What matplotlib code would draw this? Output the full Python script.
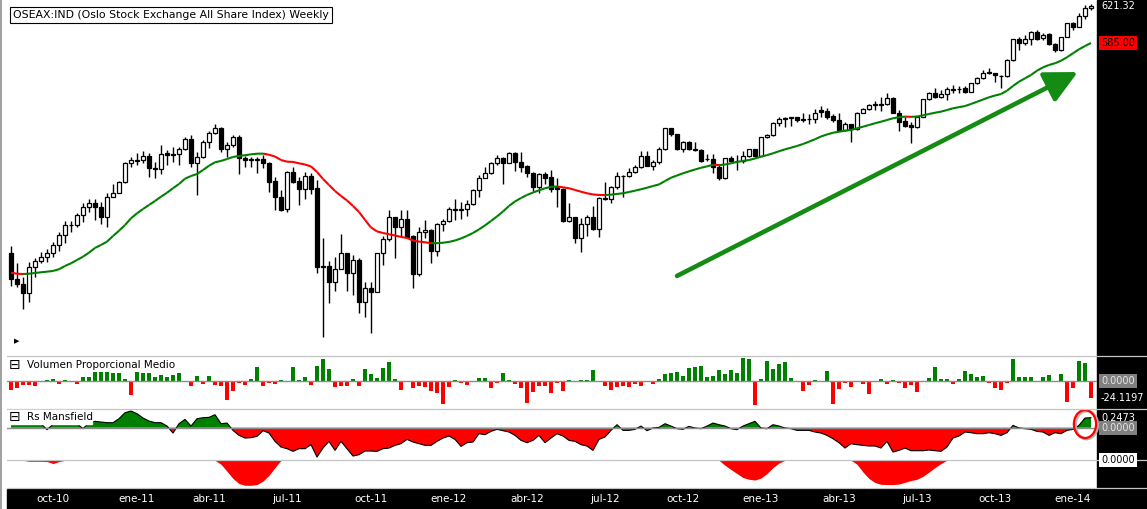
import numpy as np
import pandas as pd
import matplotlib
matplotlib.use("Agg")
import matplotlib.pyplot as plt
from matplotlib.collections import LineCollection
from matplotlib.patches import Rectangle, Ellipse
from matplotlib.lines import Line2D
from matplotlib.transforms import blended_transform_factory as blend

plt.rcParams['font.family'] = ['DejaVu Sans']

# OSEAX weekly candles (weeks ending on friday)
opens = [
    378.6, 353.0, 348.4, 339.9, 364.8, 371.3, 375.2, 379.2, 386.4, 396.2,
    406.0, 406.0, 415.9, 423.7, 427.6, 423.7, 413.9, 433.6, 437.5, 448.5,
    466.9, 469.5, 470.1, 474.1, 462.3, 461.0, 476.7, 475.3, 476.0, 480.6,
    490.5, 467.5, 472.8, 488.1, 496.3, 501.3, 480.6, 484.6, 492.4, 471.8,
    470.1, 470.1, 471.1, 466.9, 449.5, 433.6, 421.8, 458.4, 449.5, 441.4,
    454.4, 442.4, 365.4, 366.1, 350.7, 362.9, 378.6, 358.9, 372.0, 331.1,
    344.2, 340.9, 378.6, 392.3, 413.9, 404.1, 411.9, 395.5, 357.9, 399.2,
    401.4, 381.1, 407.3, 410.6, 422.3, 421.4, 421.8, 426.6, 440.7, 452.2,
    457.1, 466.9, 471.8, 466.9, 476.7, 468.5, 464.3, 457.1, 444.0, 456.1,
    453.2, 444.0, 441.4, 410.6, 413.9, 393.3, 407.0, 413.9, 402.1, 432.2,
    431.6, 444.0, 454.4, 454.7, 458.7, 463.6, 474.4, 464.6, 468.5, 480.6,
    501.3, 495.4, 480.6, 488.1, 480.6, 480.0, 471.1, 471.5, 463.3, 452.5,
    471.8, 469.2, 469.5, 474.4, 480.6, 474.4, 492.4, 494.4, 506.2, 510.7,
    511.7, 512.1, 509.7, 510.1, 510.1, 519.2, 518.5, 513.3, 509.4, 499.6,
    505.5, 500.3, 516.6, 519.9, 524.4, 524.4, 524.8, 530.7, 516.6, 508.4,
    504.5, 502.2, 512.6, 529.7, 535.6, 532.3, 534.9, 539.2, 539.5, 540.5,
    537.2, 545.4, 550.3, 556.8, 555.2, 552.3, 552.6, 568.3, 588.6, 584.7,
    588.6, 595.5, 589.6, 593.5, 583.7, 578.1, 590.6, 604.3, 601.0, 611.5,
    619.0]
highs = [
    385.7, 369.3, 355.6, 370.3, 374.2, 380.1, 382.5, 389.9, 399.8, 410.3,
    410.3, 417.8, 428.2, 431.6, 431.6, 429.2, 437.5, 446.6, 449.8, 468.5,
    473.4, 476.7, 479.3, 476.7, 468.5, 484.9, 480.0, 483.2, 483.2, 492.4,
    494.7, 478.3, 489.8, 498.6, 505.2, 502.8, 488.1, 494.7, 494.7, 474.1,
    473.4, 472.8, 475.1, 468.5, 453.8, 440.7, 459.3, 463.0, 453.8, 458.7,
    457.1, 450.5, 393.3, 371.0, 375.2, 397.2, 378.9, 376.9, 373.7, 350.7,
    350.7, 378.9, 395.5, 421.1, 414.5, 421.1, 421.1, 396.5, 404.7, 411.3,
    402.4, 408.3, 411.9, 424.3, 431.6, 429.2, 430.9, 441.2, 455.4, 463.6,
    468.5, 475.1, 472.6, 478.3, 478.3, 478.3, 465.2, 457.9, 457.1, 458.7,
    460.3, 452.2, 442.7, 427.6, 414.2, 413.0, 416.2, 424.5, 433.6, 448.8,
    444.6, 458.1, 455.4, 462.0, 465.2, 479.0, 479.3, 470.1, 482.6, 501.6,
    501.6, 495.7, 488.8, 488.8, 488.1, 480.5, 476.0, 475.7, 465.2, 472.1,
    474.1, 475.1, 479.3, 480.9, 480.9, 492.7, 495.4, 507.5, 512.6, 512.6,
    512.6, 512.6, 516.0, 515.3, 519.9, 523.2, 521.2, 515.3, 516.0, 507.5,
    505.5, 517.3, 521.2, 525.1, 528.3, 531.7, 535.6, 532.0, 519.2, 512.3,
    507.7, 513.3, 530.0, 536.9, 540.5, 538.9, 541.5, 543.8, 542.8, 542.8,
    546.2, 551.6, 558.5, 560.1, 555.5, 553.6, 568.8, 588.9, 591.2, 592.8,
    597.1, 597.8, 594.5, 594.5, 584.7, 591.2, 604.6, 605.9, 614.1, 622.3,
    623.3]
lows = [
    346.5, 345.8, 324.2, 331.1, 355.6, 368.7, 370.3, 375.2, 380.8, 388.4,
    399.8, 404.7, 409.6, 419.4, 411.3, 407.3, 404.1, 433.6, 437.5, 447.9,
    463.6, 465.2, 466.9, 453.8, 452.2, 456.4, 465.2, 468.5, 465.2, 480.0,
    463.6, 435.8, 471.8, 481.6, 495.7, 478.3, 473.4, 483.2, 456.4, 463.0,
    463.0, 457.7, 462.0, 439.0, 421.1, 420.1, 419.4, 447.9, 426.0, 431.6,
    436.5, 359.5, 296.7, 330.1, 341.6, 362.9, 341.6, 337.6, 319.7, 315.7,
    300.0, 340.6, 367.1, 390.9, 373.7, 394.9, 394.3, 344.8, 356.6, 393.3,
    368.7, 375.9, 400.8, 409.6, 411.3, 411.9, 415.5, 426.0, 433.6, 452.2,
    456.4, 465.2, 446.6, 466.9, 459.6, 458.7, 453.8, 440.0, 437.5, 446.6,
    438.7, 423.7, 409.3, 409.3, 388.4, 380.1, 395.5, 401.4, 394.3, 430.9,
    427.6, 441.4, 433.6, 453.8, 457.4, 462.3, 464.3, 460.3, 466.2, 480.0,
    493.7, 480.0, 478.0, 480.0, 479.3, 468.2, 469.2, 457.7, 450.2, 451.8,
    468.2, 460.3, 467.2, 472.9, 472.9, 474.1, 491.7, 493.7, 503.5, 502.5,
    503.5, 507.5, 507.5, 505.5, 506.8, 512.6, 510.1, 507.5, 498.9, 498.6,
    488.1, 499.6, 516.3, 519.2, 519.2, 518.5, 524.1, 516.3, 498.9, 502.5,
    487.1, 501.6, 512.3, 529.0, 530.7, 530.7, 529.0, 535.6, 535.6, 535.6,
    536.5, 544.8, 549.7, 554.5, 547.0, 540.5, 551.6, 567.3, 578.1, 583.0,
    583.0, 587.9, 587.9, 583.0, 576.5, 577.4, 590.4, 597.8, 600.7, 608.3,
    617.4]
closes = [
    353.0, 348.1, 339.9, 364.8, 371.3, 375.2, 379.2, 386.4, 396.2, 406.0,
    406.6, 415.9, 423.7, 427.6, 423.7, 413.9, 433.6, 437.5, 448.5, 467.5,
    470.1, 470.1, 474.1, 462.0, 461.0, 476.0, 475.1, 476.0, 480.6, 490.5,
    467.5, 472.8, 488.1, 496.3, 501.3, 480.6, 484.6, 492.4, 471.8, 470.1,
    471.1, 471.1, 466.9, 448.8, 433.6, 421.1, 458.4, 448.8, 441.4, 454.4,
    442.0, 365.4, 366.4, 350.7, 362.9, 378.6, 358.9, 372.0, 331.1, 344.2,
    340.9, 378.6, 392.3, 413.9, 404.1, 411.9, 394.9, 357.9, 399.2, 401.4,
    381.1, 407.3, 410.6, 421.8, 421.1, 422.0, 426.6, 440.7, 452.2, 457.1,
    467.5, 471.8, 466.9, 476.7, 467.9, 463.6, 457.1, 444.0, 456.1, 452.8,
    441.4, 441.4, 410.6, 413.9, 393.3, 407.0, 413.9, 402.1, 432.6, 432.6,
    444.0, 454.7, 454.7, 458.7, 463.6, 474.4, 464.6, 468.5, 480.6, 501.3,
    495.4, 480.6, 488.1, 480.6, 480.0, 469.5, 471.5, 463.3, 452.5, 471.8,
    469.5, 469.5, 474.4, 480.6, 474.4, 492.4, 494.4, 506.2, 510.1, 511.1,
    512.1, 509.4, 510.1, 510.4, 516.6, 517.6, 512.6, 509.4, 499.6, 505.5,
    500.3, 516.6, 519.9, 524.1, 524.8, 524.8, 530.7, 516.6, 507.7, 503.5,
    502.2, 512.6, 529.7, 535.6, 532.3, 534.6, 539.5, 539.5, 539.8, 537.2,
    545.4, 550.3, 555.8, 555.2, 553.6, 552.6, 568.3, 588.6, 584.7, 588.6,
    595.5, 588.6, 592.8, 583.7, 578.1, 590.6, 604.3, 601.0, 611.5, 619.0,
    621.32]

# 30 week moving average
ma30 = [
    359.5, 358.5, 358.2, 358.5, 359.2, 359.9, 360.5, 361.2, 362.9, 366.1,
    368.7, 372.0, 375.2, 379.2, 383.8, 386.7, 390.0, 395.5, 400.7, 406.3,
    412.9, 417.8, 422.0, 426.0, 429.9, 434.1, 438.0, 442.4, 446.6, 451.8,
    454.4, 456.4, 460.3, 464.5, 467.9, 469.2, 471.1, 473.1, 474.1, 474.8,
    475.7, 476.3, 476.4, 475.3, 473.5, 470.1, 468.5, 468.2, 466.9, 465.7,
    463.8, 458.4, 451.5, 445.6, 439.7, 434.8, 430.4, 425.0, 419.1, 411.3,
    403.9, 400.0, 398.5, 397.2, 396.0, 394.6, 393.6, 391.1, 390.0, 389.4,
    388.4, 388.5, 388.9, 389.7, 391.1, 393.1, 395.6, 398.5, 402.0, 405.9,
    410.3, 414.7, 419.6, 425.0, 429.4, 432.8, 435.8, 438.2, 440.4, 442.4,
    443.8, 444.1, 443.3, 442.4, 440.7, 439.0, 437.5, 436.3, 435.8, 435.7,
    436.1, 436.8, 437.5, 438.7, 440.0, 441.4, 442.9, 444.6, 446.1, 449.5,
    452.7, 454.9, 457.1, 459.0, 460.8, 462.5, 463.9, 465.4, 465.1, 465.7,
    466.9, 468.2, 469.2, 470.1, 471.6, 473.4, 474.9, 476.7, 478.7, 480.6,
    482.2, 483.9, 485.8, 488.1, 490.5, 493.2, 495.2, 496.9, 497.9, 498.9,
    499.6, 501.3, 502.8, 504.5, 506.2, 507.7, 509.4, 511.1, 512.1, 512.7,
    512.5, 512.8, 514.0, 515.3, 516.5, 517.6, 519.2, 520.9, 522.0, 523.1,
    525.1, 527.3, 529.5, 531.7, 533.4, 534.9, 538.2, 542.8, 547.0, 550.3,
    553.6, 557.8, 561.1, 563.4, 565.1, 567.6, 571.0, 574.9, 578.8, 582.0,
    585.0]

# Volumen Proporcional Medio
vol_prop = [
    -12.3, -9.3, -5.9, -5.9, -6.9, 0.0, 2.0, 3.0, -3.4, 2.0,
    0.0, -3.4, 6.4, 6.4, 13.8, 13.8, 13.8, 12.8, 12.8, 3.0,
    -20.7, 13.8, 12.3, 12.3, 6.4, 8.9, 6.4, 8.9, 12.3, 0.0,
    -6.4, 7.9, -3.4, 7.9, -4.9, -6.4, -27.1, -14.8, -2.5, -4.9,
    3.0, 21.2, -7.4, -2.5, -3.4, 2.0, 0.0, 21.2, 2.0, 6.4,
    -4.9, 22.6, 33.5, 18.7, -7.9, -6.9, -6.9, 3.0, -6.4, 18.7,
    10.8, 5.4, 19.7, 28.5, 3.0, -12.3, 0.0, -9.3, -6.9, -7.9,
    -13.8, -16.7, -33.0, -7.9, 2.0, -2.0, -4.9, 0.0, 4.9, 4.9,
    -9.3, -2.0, 12.3, 2.0, -3.4, -9.3, -31.5, -15.3, -6.4, -6.4,
    -16.7, -2.0, -13.8, 2.0, 0.0, 2.0, 2.0, 16.7, 0.0, -6.4,
    -12.3, -7.9, -6.4, -7.9, -3.4, -6.4, 0.0, -3.4, 3.4, 10.8,
    12.3, 13.8, 7.9, 19.7, 20.7, 22.6, 6.4, 7.9, 16.7, 10.8,
    16.7, 12.3, 34.4, 33.5, -34.4, 3.0, 29.5, 18.7, 25.6, 28.5,
    4.9, 0.0, -14.8, -4.9, 2.0, 0.0, 15.3, -33.0, -10.8, -2.0,
    -7.9, 0.0, -3.4, -18.2, 0.0, 3.4, -3.4, 2.0, -2.0, -9.3,
    -4.9, -15.3, 0.0, 4.9, 21.6, 3.4, 3.4, -3.4, 3.4, 14.8,
    10.8, 6.9, 7.9, -2.0, -9.3, -12.3, -2.0, 33.5, 6.9, 6.9,
    6.9, 0.0, 6.9, 9.3, 0.0, 10.8, -30.0, -9.3, 30.5, 27.6,
    -24.1197]

# Rs Mansfield
rs_mansfield = [
    0.231, 0.206, 0.181, 0.165, 0.148, 0.099, -0.049, 0.082, 0.124, 0.132,
    0.132, 0.099, -0.025, 0.124, 0.157, 0.140, 0.124, 0.124, 0.223, 0.371,
    0.412, 0.346, 0.239, 0.165, 0.124, 0.124, 0.041, -0.132, 0.099, 0.206,
    0.041, 0.223, 0.247, 0.256, 0.321, 0.099, 0.115, -0.066, -0.190, -0.256,
    -0.247, -0.214, -0.074, -0.132, -0.338, -0.478, -0.519, -0.585, -0.519, -0.519,
    -0.420, -0.725, -0.503, -0.338, -0.561, -0.338, -0.519, -0.701, -0.668, -0.577,
    -0.577, -0.585, -0.519, -0.503, -0.437, -0.396, -0.289, -0.354, -0.396, -0.437,
    -0.437, -0.338, -0.256, -0.206, -0.289, -0.462, -0.371, -0.354, -0.148, -0.173,
    -0.091, -0.041, -0.074, -0.107, -0.190, -0.313, -0.371, -0.313, -0.190, -0.371,
    -0.256, -0.148, -0.206, -0.313, -0.338, -0.420, -0.453, -0.561, -0.289, -0.231,
    -0.066, 0.074, -0.066, -0.066, -0.041, 0.041, -0.074, -0.008, 0.008, 0.099,
    0.041, -0.025, -0.041, 0.033, -0.008, -0.025, 0.041, 0.115, 0.074, 0.041,
    -0.025, -0.049, 0.041, 0.099, 0.157, -0.008, -0.025, 0.074, 0.041, -0.008,
    -0.025, -0.066, -0.066, -0.066, -0.107, -0.132, -0.190, -0.272, -0.371, -0.503,
    -0.396, -0.420, -0.437, -0.453, -0.453, -0.503, -0.338, -0.602, -0.561, -0.503,
    -0.569, -0.569, -0.569, -0.552, -0.569, -0.585, -0.478, -0.256, -0.206, -0.107,
    -0.124, -0.148, -0.148, -0.124, -0.148, -0.190, -0.124, 0.058, -0.008, -0.025,
    -0.041, -0.091, -0.107, -0.190, -0.124, -0.148, -0.066, -0.041, 0.058, 0.239,
    0.2473]

# lower unnamed sub panel (only negative stretches)
rs_lower = [
    0, 0, 0, -0.04, -0.04, -0.04, -0.05, -0.13, -0.05, 0,
    0, 0, 0, 0, 0, 0, 0, 0, 0, 0,
    0, 0, 0, 0, 0, 0, 0, 0, 0, 0,
    0, 0, 0, 0, 0, -0.16, -0.44, -0.73, -0.93, -1.0,
    -1.0, -0.97, -0.83, -0.6, -0.29, 0, 0, 0, 0, 0,
    0, 0, 0, 0, 0, 0, 0, 0, 0, 0,
    0, 0, 0, 0, 0, 0, 0, 0, 0, 0,
    0, 0, 0, 0, 0, 0, 0, 0, 0, 0,
    0, 0, 0, 0, 0, 0, 0, 0, 0, 0,
    0, 0, 0, 0, 0, 0, 0, 0, 0, 0,
    0, 0, 0, 0, 0, 0, 0, 0, 0, 0,
    0, 0, 0, 0, 0, 0, 0, 0, 0, -0.2,
    -0.37, -0.53, -0.69, -0.76, -0.79, -0.71, -0.53, -0.29, -0.11, 0,
    0, 0, 0, 0, 0, 0, 0, 0, 0, 0,
    0, -0.16, -0.47, -0.73, -0.89, -0.96, -0.97, -0.97, -0.95, -0.88,
    -0.81, -0.76, -0.64, -0.47, -0.29, -0.13, 0, 0, 0, 0,
    0, 0, 0, 0, 0, 0, 0, 0, 0, 0,
    0, 0, 0, 0, 0, 0, 0, 0, 0, 0,
    0]

GREEN = '#008000'
RED = '#ff0000'

W, H = 1147, 509
fig = plt.figure(figsize=(W / 100, H / 100), dpi=100)


def fx(px):
    return px / W


def fy(py):
    return 1 - py / H


def panel(top, bottom):
    a = fig.add_axes([fx(7), fy(bottom), fx(1097 - 7), (bottom - top) / H])
    a.set_xlim(-0.67, 181.0)
    a.set_axis_off()
    return a


x = np.arange(len(closes))
o = np.array(opens)
c = np.array(closes)
hi = np.array(highs)
lo = np.array(lows)
up = c >= o

# --- price panel
ax = panel(0, 355.5)
ax.set_ylim(278.2, 627.2)
ax.vlines(x, lo, hi, color='black', lw=1.0, zorder=2)
ax.bar(x, np.maximum(np.abs(c - o), 0.35), bottom=np.minimum(o, c), width=0.58,
       color=['white' if u else 'black' for u in up], edgecolor='black', linewidth=0.9, zorder=3)

ma = np.array(ma30)
pts = np.column_stack([x, ma])
segs = np.stack([pts[:-1], pts[1:]], axis=1)
seg_cols = [GREEN if d >= 0 else RED for d in np.diff(ma)]
ax.add_collection(LineCollection(segs, colors=seg_cols, linewidths=1.5, zorder=4))

ax.annotate('', xy=(177.8, 556.5), xytext=(111.0, 356.3),
            arrowprops=dict(arrowstyle='-|>,head_length=0.9,head_width=0.45', mutation_scale=22,
                            color='#148c14', lw=3.3, shrinkA=0, shrinkB=0), zorder=5)

# --- volume panel
axv = panel(356.3, 408.7)
axv.set_ylim(-40.3, 36.8)
vp = np.array(vol_prop)
axv.bar(x, vp, width=0.66, color=[GREEN if v >= 0 else RED for v in vp], linewidth=0)
axv.axhline(0, color='#8c8c8c', lw=1.0, zorder=3)

# --- rs mansfield panel
axr = panel(408.7, 460.3)
axr.set_ylim(-0.806, 0.47)
rs = np.array(rs_mansfield)
axr.fill_between(x, rs, 0, where=rs >= 0, interpolate=True, color=GREEN, lw=0)
axr.fill_between(x, rs, 0, where=rs <= 0, interpolate=True, color=RED, lw=0)
axr.plot(x, rs, color='black', lw=0.8, zorder=2)
axr.axhline(0, color='#8c8c8c', lw=1.0, zorder=3)
axr.add_patch(Ellipse((179.25, 0.07), 3.7, 0.69, fill=False, ec='#b4b4b4', lw=2.2, clip_on=False, zorder=5))
axr.add_patch(Ellipse((179.0, 0.09), 3.7, 0.69, fill=False, ec=RED, lw=1.6, clip_on=False, zorder=6))

# --- lower sub panel
axl = panel(460.3, 488)
axl.set_ylim(-1.108, 0.0)
axl.fill_between(x, rs_lower, 0, color=RED, lw=0)

# black strips: right scale and date axis
fig.add_artist(Rectangle((fx(1097), 0), 1 - fx(1097), 1, transform=fig.transFigure,
                         color='black', zorder=-1))
fig.add_artist(Rectangle((fx(7), 0), 1 - fx(7), fy(489), transform=fig.transFigure,
                         color='black', zorder=-1))

# panel separators, left border
for py in [356.3, 408.7, 460.3, 488]:
    fig.add_artist(Line2D([fx(7), 1], [fy(py), fy(py)], color='#c4c4c4', lw=0.9, zorder=2))
fig.add_artist(Line2D([fx(1), fx(1)], [0, 1], color='#a0a0a0', lw=1.4, zorder=2))

# date labels
dates = pd.date_range('2010-08-13', periods=len(closes), freq='W-FRI')
meses = {1: 'ene', 4: 'abr', 7: 'jul', 10: 'oct'}
tr_x = blend(ax.transData, fig.transFigure)
for i in range(1, len(dates)):
    d = dates[i]
    if d.month != dates[i - 1].month and d.month in meses:
        fig.text(i, fy(499), '%s-%02d' % (meses[d.month], d.year % 100), transform=tr_x,
                 color='white', fontsize=7.5, ha='center', va='center', zorder=5)

# right side value labels
def right_label(a, val, txt, color='white', box=None):
    fig.text(fx(1101), val, txt, transform=blend(fig.transFigure, a.transData), color=color,
             fontsize=7, va='center', ha='left', zorder=6, bbox=box)

right_label(ax, closes[-1], '%.2f' % closes[-1])
right_label(ax, ma30[-1], '%.2f' % ma30[-1], 'black',
            dict(boxstyle='square,pad=0.2', fc=RED, ec='none'))
right_label(axv, 0, '%.4f' % 0, '#e6e6e6', dict(boxstyle='square,pad=0.2', fc='#808080', ec='none'))
right_label(axv, vol_prop[-1], '%.4f' % vol_prop[-1])
right_label(axr, 0, '%.4f' % 0, '#e6e6e6', dict(boxstyle='square,pad=0.2', fc='#808080', ec='none'))
right_label(axr, rs_mansfield[-1], '%.4f' % rs_mansfield[-1])
right_label(axl, 0, '%.4f' % 0, 'black', dict(boxstyle='square,pad=0.2', fc='white', ec='none'))

# titles
fig.text(fx(13), fy(15), 'OSEAX:IND (Oslo Stock Exchange All Share Index) Weekly', fontsize=7.8,
         va='center', ha='left', zorder=6,
         bbox=dict(boxstyle='square,pad=0.3', fc='white', ec='black', lw=0.8))
fig.text(fx(17), fy(341), '\u25b6', fontsize=5, va='center', ha='center', zorder=6)

fig.text(fx(9), fy(364.5), '\u229f', fontsize=10, va='center', ha='left', zorder=6)
fig.text(fx(27), fy(364.5), 'Volumen Proporcional Medio', fontsize=7.5, va='center', ha='left', zorder=6)

fig.add_artist(Rectangle((fx(8), fy(424)), fx(84), 14 / H, transform=fig.transFigure,
                         color='white', zorder=5))
fig.text(fx(9), fy(417), '\u229f', fontsize=10, va='center', ha='left', zorder=6)
fig.text(fx(27), fy(417), 'Rs Mansfield', fontsize=7.5, va='center', ha='left', zorder=6)

fig.savefig('out.png', dpi=100)
